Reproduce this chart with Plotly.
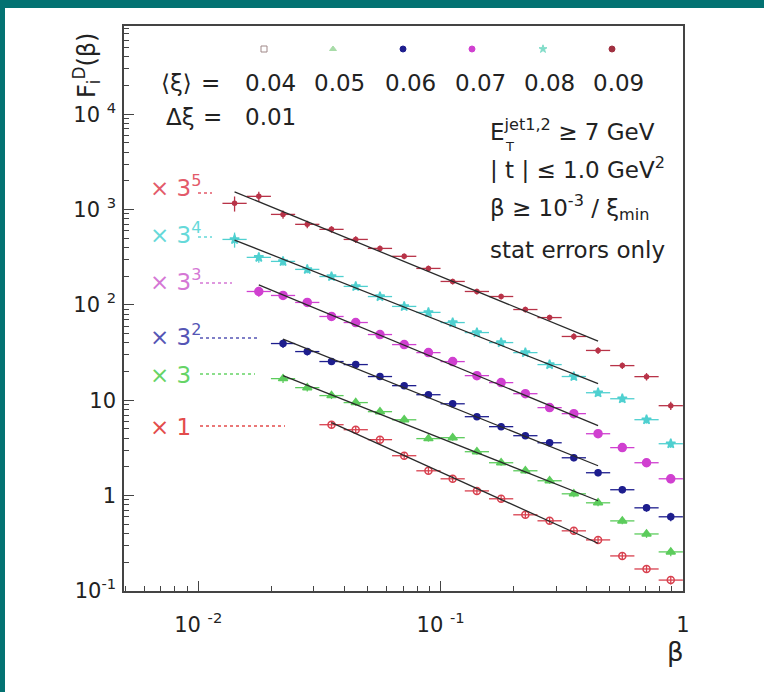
import numpy as np
import plotly.graph_objects as go

# ---------------- data ----------------
# log10(beta) bin edges (0.1 decade bins)
log_beta_edges = [-1.9, -1.8, -1.7, -1.6, -1.5, -1.4, -1.3, -1.2, -1.1, -1.0,
                  -0.9, -0.8, -0.7, -0.6, -0.5, -0.4, -0.3, -0.2, -0.1, 0.0]

xi_labels = ["0.04", "0.05", "0.06", "0.07", "0.08", "0.09"]
scale_power = [0, 1, 2, 3, 4, 5]          # each series multiplied by 3^k
first_bin = [4, 2, 2, 1, 0, 0]            # first populated beta bin per series

F_xi004 = [5.54, 4.91, 3.86, 2.62, 1.82, 1.50, 1.12, 0.926, 0.629, 0.544,
           0.427, 0.343, 0.233, 0.170, 0.130]
F_xi005 = [5.62, 4.52, 3.73, 3.15, 2.53, 2.08, 1.32, 1.35, 0.962, 0.737,
           0.607, 0.477, 0.348, 0.280, 0.181, 0.132, 0.0856]
F_xi006 = [4.37, 3.60, 2.83, 2.63, 1.97, 1.58, 1.27, 1.02, 0.747, 0.587,
           0.472, 0.398, 0.277, 0.193, 0.128, 0.0827, 0.0666]
F_xi007 = [5.12, 4.65, 3.93, 2.80, 2.42, 1.81, 1.42, 1.17, 0.942, 0.671,
           0.567, 0.434, 0.310, 0.268, 0.165, 0.118, 0.0819, 0.0556]
F_xi008 = [6.00, 3.89, 3.53, 2.91, 2.45, 1.93, 1.51, 1.19, 1.03, 0.806,
           0.633, 0.497, 0.390, 0.292, 0.219, 0.148, 0.128, 0.0772, 0.0432]
F_xi009 = [4.78, 5.66, 3.66, 2.88, 2.55, 2.00, 1.61, 1.33, 0.993, 0.725,
           0.569, 0.504, 0.368, 0.303, 0.192, 0.137, 0.0950, 0.0728, 0.0361]

# relative statistical error per beta bin
rel_err = [0.18, 0.12, 0.10, 0.09, 0.08, 0.08, 0.07, 0.07, 0.07, 0.07,
           0.07, 0.07, 0.07, 0.07, 0.08, 0.08, 0.08, 0.09, 0.10]

fit_max_log_beta = -0.35

y_tick_vals = [0.1, 1, 10, 100, 1000, 10000]
y_tick_text = ["10<sup>-1</sup>", "1", "10", "10\u00a0<sup>2</sup>",
               "10\u00a0<sup>3</sup>", "10\u00a0<sup>4</sup>"]
x_tick_vals = [0.01, 0.1, 1]
x_tick_text = ["10\u00a0<sup>-2</sup>", "10\u00a0<sup>-1</sup>", "1"]

series_F = [F_xi004, F_xi005, F_xi006, F_xi007, F_xi008, F_xi009]

# ---------------- styles ----------------
colors = ["#d8404e", "#5ccc5c", "#1e1e8e", "#d040d0", "#4fd0d0", "#b83348"]
label_colors = ["#e34b4b", "#66d466", "#5555b5", "#d577d5", "#66d9d9", "#e35a6a"]
symbols = ["circle-open", "triangle-up", "circle", "circle", "star", "circle"]
sizes = [7, 8, 6, 8, 7, 4]
legend_symbols = ["square-open", "triangle-up", "circle", "circle", "star", "circle"]
legend_colors = ["#a08888", "#a8dca8", "#1e1e8e", "#d040d0", "#80dcc8", "#a03040"]

FONT = "DejaVu Sans, Liberation Sans, sans-serif"
W, H = 764, 692
PL, PR, PT, PB = 124, 683, 26, 591


def X(p):
    return (p - PL) / (PR - PL)


def Y(p):
    return (PB - p) / (PB - PT)


fig = go.Figure()

edges = np.array(log_beta_edges)
centers = 10 ** ((edges[:-1] + edges[1:]) / 2)
lo = 10 ** edges[:-1]
hi = 10 ** edges[1:]

fit_lines = []
for i, F in enumerate(series_F):
    n = len(F)
    s = first_bin[i]
    xc = centers[s:s + n]
    f = np.array(F) * 3 ** scale_power[i]
    e = f * np.array(rel_err[s:s + n])
    fig.add_trace(go.Scatter(
        x=xc, y=f, mode="markers",
        marker=dict(symbol=symbols[i], size=sizes[i], color=colors[i],
                    line=dict(color=colors[i], width=1.5)),
        error_x=dict(type="data", symmetric=False, array=hi[s:s + n] - xc,
                     arrayminus=xc - lo[s:s + n], color=colors[i],
                     thickness=1.3, width=0),
        error_y=dict(type="data", array=e, color=colors[i], thickness=1.3, width=0),
        showlegend=False, cliponaxis=False))
    m = np.log10(xc) <= fit_max_log_beta + 1e-9
    p = np.polyfit(np.log10(xc[m]), np.log10(f[m]), 1)
    lx = np.linspace(np.log10(xc[m][0]), np.log10(xc[m][-1]), 30)
    fit_lines.append((10 ** lx, 10 ** np.polyval(p, lx)))

for lxv, lyv in fit_lines:
    fig.add_trace(go.Scatter(x=lxv, y=lyv, mode="lines",
                             line=dict(color="#2a2a2a", width=1.3),
                             showlegend=False))

# legend markers (overlay axes in plot-fraction units)
leg_x = [264, 333, 403, 472, 543, 612]
fig.add_trace(go.Scatter(
    x=[X(v) for v in leg_x], y=[Y(49)] * 6, mode="markers",
    marker=dict(symbol=legend_symbols, size=6, color=legend_colors,
                line=dict(color=legend_colors, width=1)),
    xaxis="x2", yaxis="y2", showlegend=False, cliponaxis=False))

minor_vals_x = [d * 10.0 ** e for e in range(-3, 1) for d in range(2, 10)]
minor_vals_y = [d * 10.0 ** e for e in range(-1, 5) for d in range(2, 10)]

axis_common = dict(type="log", showline=True, linecolor="#444", linewidth=1.5,
                   mirror=True, showgrid=False, zeroline=False,
                   ticks="inside", ticklen=10, tickwidth=1, tickcolor="#444",
                   tickfont=dict(family=FONT, size=21, color="#222"))

fig.update_layout(
    width=W, height=H, autosize=False,
    margin=dict(l=PL, r=W - PR, t=PT, b=H - PB, pad=0),
    paper_bgcolor="white", plot_bgcolor="white",
    xaxis=dict(range=[np.log10(0.00494), 0.0005], tickmode="array",
               tickvals=x_tick_vals, ticktext=x_tick_text,
               minor=dict(tickmode="array", tickvals=minor_vals_x, ticks="inside",
                          ticklen=5, tickcolor="#444", tickwidth=1),
               ticklabelstandoff=14, **axis_common),
    yaxis=dict(range=[-1.0005, 4.925], tickmode="array",
               tickvals=y_tick_vals, ticktext=y_tick_text,
               minor=dict(tickmode="array", tickvals=minor_vals_y, ticks="inside",
                          ticklen=5, tickcolor="#444", tickwidth=1),
               ticklabelstandoff=2, **axis_common),
    xaxis2=dict(overlaying="x", range=[0, 1], visible=False, anchor="y2"),
    yaxis2=dict(overlaying="y", range=[0, 1], visible=False, anchor="x2"),
    font=dict(family=FONT, color="#222"),
)

ann = []


def add_text(text, x, y, size=23, color="#222", xanchor="center", **kw):
    ann.append(dict(text=text, x=X(x), y=Y(y), xref="paper", yref="paper",
                    showarrow=False, xanchor=xanchor, yanchor="middle",
                    font=dict(family=FONT, size=size, color=color), **kw))


# top legend text
add_text("\u27e8\u03be\u27e9", 176, 83)
add_text("=", 210, 83)
leg_text_x = [270, 339, 410, 480, 549, 618]
for t, xv in zip(xi_labels, leg_text_x):
    add_text(t, xv, 83)
add_text("\u0394\u03be", 180, 117)
add_text("=", 212, 117)
add_text("0.01", 270, 117)

# right text block
add_text("E<sup>jet1,2</sup> \u2265 7 GeV", 488, 130, xanchor="left")
add_text("T", 503, 146, size=13, xanchor="left")
add_text("| t | \u2264 1.0 GeV<sup>2</sup>", 488, 168, xanchor="left")
add_text("\u03b2 \u2265 10<sup>-3</sup> / \u03be<sub>min</sub>", 488, 208, xanchor="left")
add_text("stat errors only", 488, 250, xanchor="left")

# scale labels
scale_label_y = [427, 375, 335, 280, 233, 186]
scale_texts = ["\u00d7 1", "\u00d7 3", "\u00d7 3<sup>2</sup>", "\u00d7 3<sup>3</sup>",
               "\u00d7 3<sup>4</sup>", "\u00d7 3<sup>5</sup>"]
for t, yv, c in zip(scale_texts, scale_label_y, label_colors):
    add_text(t, 148, yv, size=23, color=c, xanchor="left")

# axis titles
add_text("\u03b2", 675, 652, size=26)
add_text("F<sub>i</sub><sup>D</sup>(\u03b2)", 86, 66, size=24, textangle=-90)

fig.update_layout(annotations=ann)

shapes = []
# dotted leader lines after the scale labels
leader = [(200, 285, 426), (200, 255, 374), (200, 257, 338), (200, 232, 283),
          (198, 212, 237), (198, 212, 193)]
for (x0, x1, yv), c in zip(leader, label_colors):
    shapes.append(dict(type="line", xref="paper", yref="paper", x0=X(x0), x1=X(x1),
                       y0=Y(yv), y1=Y(yv), line=dict(color=c, width=1.5, dash="dot")))
# teal frame of the slide
teal = "#037272"
shapes.append(dict(type="rect", xref="paper", yref="paper", x0=X(-5), x1=X(W + 5),
                   y0=Y(8), y1=Y(-5), fillcolor=teal, line=dict(width=0)))
shapes.append(dict(type="rect", xref="paper", yref="paper", x0=X(-5), x1=X(5),
                   y0=Y(H + 5), y1=Y(-5), fillcolor=teal, line=dict(width=0)))
fig.update_layout(shapes=shapes)

fig.write_html("out.html", include_plotlyjs=True, config={"displayModeBar": False})
